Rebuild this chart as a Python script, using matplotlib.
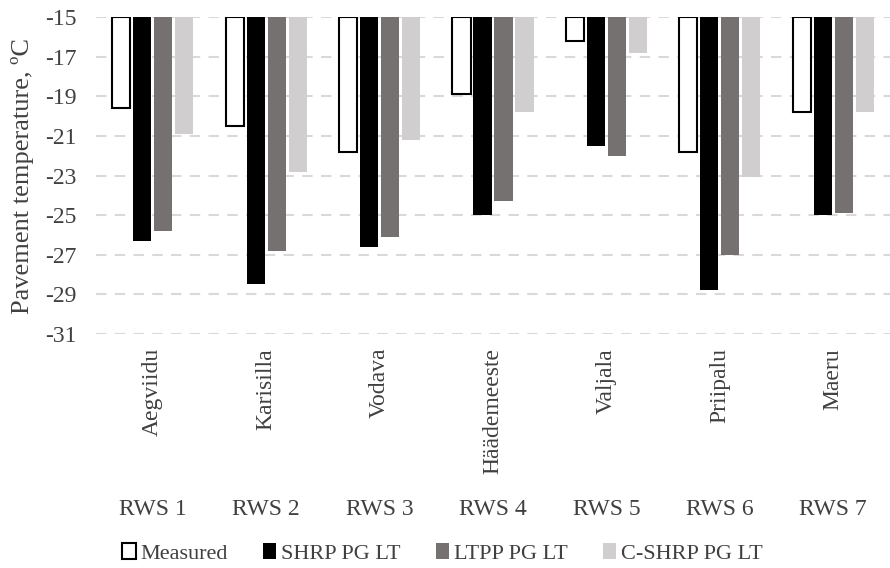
import numpy as np
import matplotlib.pyplot as plt

plt.rcParams['font.family'] = ['Liberation Serif', 'DejaVu Serif']
plt.rcParams['axes.unicode_minus'] = False

#chart data
stations = ['RWS 1', 'RWS 2', 'RWS 3', 'RWS 4', 'RWS 5', 'RWS 6', 'RWS 7']
names = ['Aegviidu', 'Karisilla', 'Vodava', 'Häädemeeste', 'Valjala', 'Priipalu', 'Maeru']
measured = [-19.6, -20.5, -21.8, -18.9, -16.2, -21.8, -19.8]
shrp = [-26.3, -28.5, -26.6, -25.0, -21.5, -28.8, -25.0]
ltpp = [-25.8, -26.8, -26.1, -24.3, -22.0, -27.0, -24.9]
cshrp = [-20.9, -22.8, -21.2, -19.8, -16.8, -23.1, -19.8]

base = -15
x = np.arange(len(stations))
w = 0.16
step = 0.185

fig = plt.figure(figsize=(8.9, 5.68), dpi=100)
ax = fig.add_axes([96/890, 1-334/568, 1-96/890, 317/568])

ax.bar(x - 1.5*step, np.array(measured) - base, w, bottom=base, color='white',
       edgecolor='black', linewidth=1.5, label='Measured', zorder=3)
ax.bar(x - 0.5*step, np.array(shrp) - base, w, bottom=base, color='#000000',
       label='SHRP PG LT', zorder=3)
ax.bar(x + 0.5*step, np.array(ltpp) - base, w, bottom=base, color='#767171',
       label='LTPP PG LT', zorder=3)
ax.bar(x + 1.5*step, np.array(cshrp) - base, w, bottom=base, color='#d0cece',
       label='C-SHRP PG LT', zorder=3)

ax.set_ylim(-31, -15)
ax.set_xlim(-0.5, len(stations) - 0.5)
ax.set_yticks(np.arange(-31, -14, 2))
ax.yaxis.grid(True, color='#d9d9d9', linestyle=(0, (5, 4)), linewidth=1.5, zorder=0)
for s in ax.spines.values():
    s.set_visible(False)
ax.tick_params(axis='y', length=0, labelsize=17, pad=14, colors='#404040')
ax.tick_params(axis='x', length=0, labelsize=17, pad=10, colors='#404040')
ax.set_xticks(x)
ax.set_xticklabels(names, rotation=90, va='top')

for i, s in enumerate(stations):
    ax.text(x[i], -0.555, s, transform=ax.get_xaxis_transform(), ha='center',
            va='center', fontsize=17, color='#404040')

ax.set_ylabel('Pavement temperature, ºC', fontsize=19, color='#404040', labelpad=8)

fig.legend(loc='center', bbox_to_anchor=(0.497, 0.026), ncol=4, frameon=False,
           fontsize=16, handlelength=0.6, handleheight=0.7, handletextpad=0.2,
           columnspacing=1.6, labelcolor='#404040')

plt.savefig('out.png')
